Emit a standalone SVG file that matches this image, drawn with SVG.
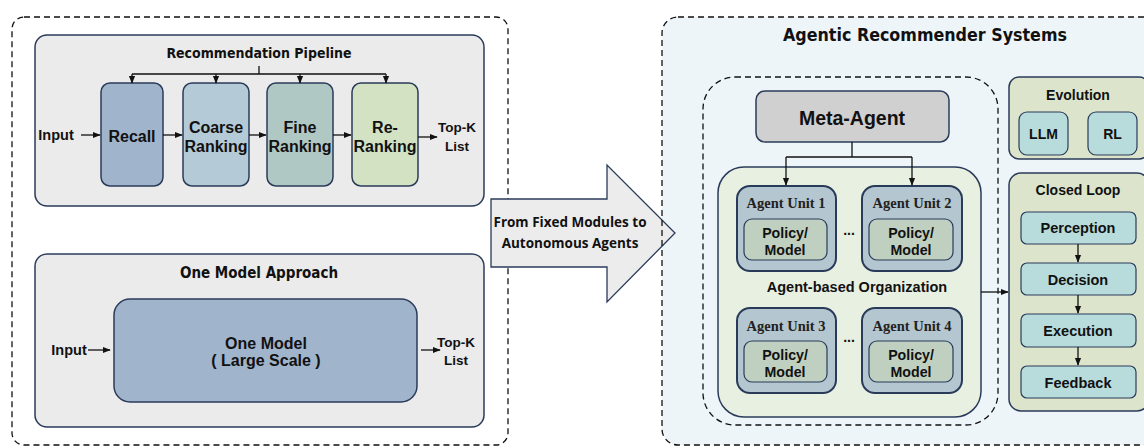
<svg xmlns="http://www.w3.org/2000/svg" width="1144" height="448" viewBox="0 0 1144 448">
<style>
.t{font-family:"Liberation Sans",Arial,sans-serif;font-weight:bold;fill:#111;text-anchor:middle;dominant-baseline:central}
.ti{font-family:"DejaVu Sans Condensed","DejaVu Sans","Liberation Sans",sans-serif;font-weight:bold;font-stretch:condensed;fill:#111;text-anchor:middle;dominant-baseline:central}
.sf{font-family:"Liberation Serif","Times New Roman",serif;font-weight:bold;fill:#222;text-anchor:middle;dominant-baseline:central}
.cal{font-family:"Open Sans","Liberation Sans",sans-serif;font-weight:bold;fill:#111;text-anchor:middle;dominant-baseline:central}
.b{stroke:#2a3b5a;stroke-width:1.5}
.dash{fill:none;stroke:#111;stroke-width:1.3;stroke-dasharray:6,4}
.ln{fill:none;stroke:#111;stroke-width:1.3}
.ib{stroke:#2a3b5a;stroke-width:1.2}
</style>
<defs>
<marker id="ah" viewBox="0 0 10 10" refX="9" refY="5" markerWidth="6" markerHeight="6" orient="auto-start-reverse">
<path d="M0,1 L10,5 L0,9 z" fill="#111"/>
</marker>
</defs>
<rect width="1144" height="448" fill="#fff"/>

<g id="left-panel">
<rect x="12" y="17" width="496" height="428" rx="12" class="dash"/>
</g>

<g id="pipeline">
<rect x="35" y="35" width="449" height="171" rx="12" fill="#ebebeb" class="b"/>
<text x="259" y="53" class="ti" font-size="14">Recommendation Pipeline</text>
</g>
<g id="recall"><rect x="101" y="83" width="62" height="103" rx="9" fill="#a0b4cc" class="b"/><text x="132" y="136" class="t" font-size="16">Recall</text></g>
<g id="coarse"><rect x="183" y="83" width="66" height="103" rx="9" fill="#b4cad6" class="b"/><text x="216" y="127" class="t" font-size="16">Coarse</text><text x="216" y="146" class="t" font-size="16">Ranking</text></g>
<g id="fine"><rect x="267" y="83" width="66" height="103" rx="9" fill="#b0c8c4" class="b"/><text x="300" y="127" class="t" font-size="16">Fine</text><text x="300" y="146" class="t" font-size="16">Ranking</text></g>
<g id="rerank"><rect x="352" y="83" width="66" height="103" rx="9" fill="#d4e2c4" class="b"/><text x="385" y="127" class="t" font-size="16">Re-</text><text x="385" y="146" class="t" font-size="16">Ranking</text></g>
<g id="p-input"><text x="56" y="135" class="t" font-size="14.5">Input</text></g>
<g id="p-topk"><text x="457" y="127" class="t" font-size="13.5">Top-K</text><text x="457" y="146" class="t" font-size="13.5">List</text></g>

<g id="onemodel-panel">
<rect x="35" y="254" width="449" height="173" rx="12" fill="#ebebeb" class="b"/>
<text x="259" y="273" class="ti" font-size="15">One Model Approach</text>
</g>
<g id="onemodel"><rect x="114" y="299" width="303" height="103" rx="16" fill="#a0b4cc" class="b"/><text x="266" y="343" class="t" font-size="16">One Model</text><text x="266" y="360" class="t" font-size="16">( Large Scale )</text></g>
<g id="o-input"><text x="69" y="350" class="t" font-size="14.5">Input</text></g>
<g id="o-topk"><text x="456" y="342" class="t" font-size="13.5">Top-K</text><text x="456" y="360" class="t" font-size="13.5">List</text></g>

<g id="right-panel">
<rect x="662" y="17" width="500" height="428" rx="16" fill="#eef5f8"/>
</g>

<g id="transition">
<path d="M491,199 L607,199 L607,165 L675,233 L607,302 L607,267 L491,267 Z" fill="#ececec" stroke="#2a3b5a" stroke-width="1.3"/>
<text x="570" y="222" class="cal" font-size="13.5">From Fixed Modules to</text>
<text x="570" y="243" class="cal" font-size="13.5">Autonomous Agents</text>
</g>

<g id="right-panel-border">
<rect x="662" y="17" width="500" height="428" rx="16" class="dash"/>
<text x="925" y="35" class="ti" font-size="17.7">Agentic Recommender Systems</text>
</g>

<g id="agent-region">
<rect x="703" y="77" width="295" height="348" rx="32" fill="#eef2fa" class="dash"/>
</g>
<g id="meta-agent"><rect x="756" y="91" width="193" height="51" rx="9" fill="#d0d0d0" class="b"/><text x="852" y="118" class="t" font-size="19.5">Meta-Agent</text></g>
<g id="agent-org"><rect x="718" y="167" width="263" height="250" rx="26" fill="#e8f0e2" class="b"/><text x="857" y="287" class="t" font-size="14.5">Agent-based Organization</text></g>

<g id="unit1"><rect x="737" y="186" width="99" height="85" rx="13" fill="#b4c6d0" stroke="#2a3b5a" stroke-width="2"/><text x="786" y="203" class="sf" font-size="14.5">Agent Unit 1</text><rect x="744" y="219" width="83" height="41" rx="8" fill="#c0d0c0" class="ib"/><text x="785" y="233" class="t" font-size="14.2">Policy/</text><text x="785" y="250" class="t" font-size="14.2">Model</text></g>
<g id="unit2"><rect x="862" y="186" width="100" height="85" rx="13" fill="#b4c6d0" stroke="#2a3b5a" stroke-width="2"/><text x="912" y="203" class="sf" font-size="14.5">Agent Unit 2</text><rect x="869" y="219" width="84" height="41" rx="8" fill="#c0d0c0" class="ib"/><text x="911" y="233" class="t" font-size="14.2">Policy/</text><text x="911" y="250" class="t" font-size="14.2">Model</text></g>
<g id="unit3"><rect x="737" y="308" width="99" height="85" rx="13" fill="#b4c6d0" stroke="#2a3b5a" stroke-width="2"/><text x="786" y="326" class="sf" font-size="14.5">Agent Unit 3</text><rect x="744" y="341" width="83" height="41" rx="8" fill="#c0d0c0" class="ib"/><text x="785" y="355" class="t" font-size="14.2">Policy/</text><text x="785" y="372" class="t" font-size="14.2">Model</text></g>
<g id="unit4"><rect x="862" y="308" width="100" height="85" rx="13" fill="#b4c6d0" stroke="#2a3b5a" stroke-width="2"/><text x="912" y="326" class="sf" font-size="14.5">Agent Unit 4</text><rect x="869" y="341" width="84" height="41" rx="8" fill="#c0d0c0" class="ib"/><text x="911" y="355" class="t" font-size="14.2">Policy/</text><text x="911" y="372" class="t" font-size="14.2">Model</text></g>
<g id="dots"><text x="849" y="230" class="t" font-size="14">...</text><text x="849" y="337" class="t" font-size="14">...</text></g>

<g id="evolution"><rect x="1009" y="77" width="140" height="82" rx="10" fill="#dce5cc" class="b"/><text x="1078" y="95" class="t" font-size="14">Evolution</text>
<rect x="1019" y="112" width="49" height="43" rx="8" fill="#b8dcdc" class="ib"/><text x="1043.5" y="134" class="t" font-size="14">LLM</text>
<rect x="1088" y="112" width="49" height="43" rx="8" fill="#b8dcdc" class="ib"/><text x="1112.5" y="134" class="t" font-size="14">RL</text></g>

<g id="closed-loop"><rect x="1009" y="173" width="140" height="238" rx="12" fill="#dce5cc" class="b"/><text x="1078" y="190" class="t" font-size="14">Closed Loop</text></g>
<g id="perception"><rect x="1021" y="212" width="115" height="32" rx="6" fill="#b8dcdc" class="ib"/><text x="1078" y="228" class="t" font-size="14.5">Perception</text></g>
<g id="decision"><rect x="1021" y="263" width="115" height="32" rx="6" fill="#b8dcdc" class="ib"/><text x="1078" y="280" class="t" font-size="14.5">Decision</text></g>
<g id="execution"><rect x="1021" y="314" width="115" height="33" rx="6" fill="#b8dcdc" class="ib"/><text x="1078" y="331" class="t" font-size="14.5">Execution</text></g>
<g id="feedback"><rect x="1021" y="366" width="115" height="32" rx="6" fill="#b8dcdc" class="ib"/><text x="1078" y="383" class="t" font-size="14.5">Feedback</text></g>

<g id="connectors">
<path d="M259,66 V74 M132,74 H386" class="ln"/>
<path d="M132,74 V83" class="ln" marker-end="url(#ah)"/>
<path d="M216,74 V83" class="ln" marker-end="url(#ah)"/>
<path d="M300,74 V83" class="ln" marker-end="url(#ah)"/>
<path d="M386,74 V83" class="ln" marker-end="url(#ah)"/>
<path d="M81,135 H100" class="ln" marker-end="url(#ah)"/>
<path d="M163,135 H182" class="ln" marker-end="url(#ah)"/>
<path d="M249,135 H266" class="ln" marker-end="url(#ah)"/>
<path d="M333,135 H351" class="ln" marker-end="url(#ah)"/>
<path d="M418,137 H437" class="ln" marker-end="url(#ah)"/>
<path d="M88,350 H110" class="ln" marker-end="url(#ah)"/>
<path d="M421,350 H440" class="ln" marker-end="url(#ah)"/>
<path d="M852,142 V157 M786,157 H912" class="ln"/>
<path d="M786,157 V185" class="ln" marker-end="url(#ah)"/>
<path d="M912,157 V185" class="ln" marker-end="url(#ah)"/>
<path d="M981,292 H1008" class="ln" marker-end="url(#ah)"/>
<path d="M1078,244 V262" class="ln" marker-end="url(#ah)"/>
<path d="M1078,295 V313" class="ln" marker-end="url(#ah)"/>
<path d="M1078,347 V365" class="ln" marker-end="url(#ah)"/>
</g>
</svg>
